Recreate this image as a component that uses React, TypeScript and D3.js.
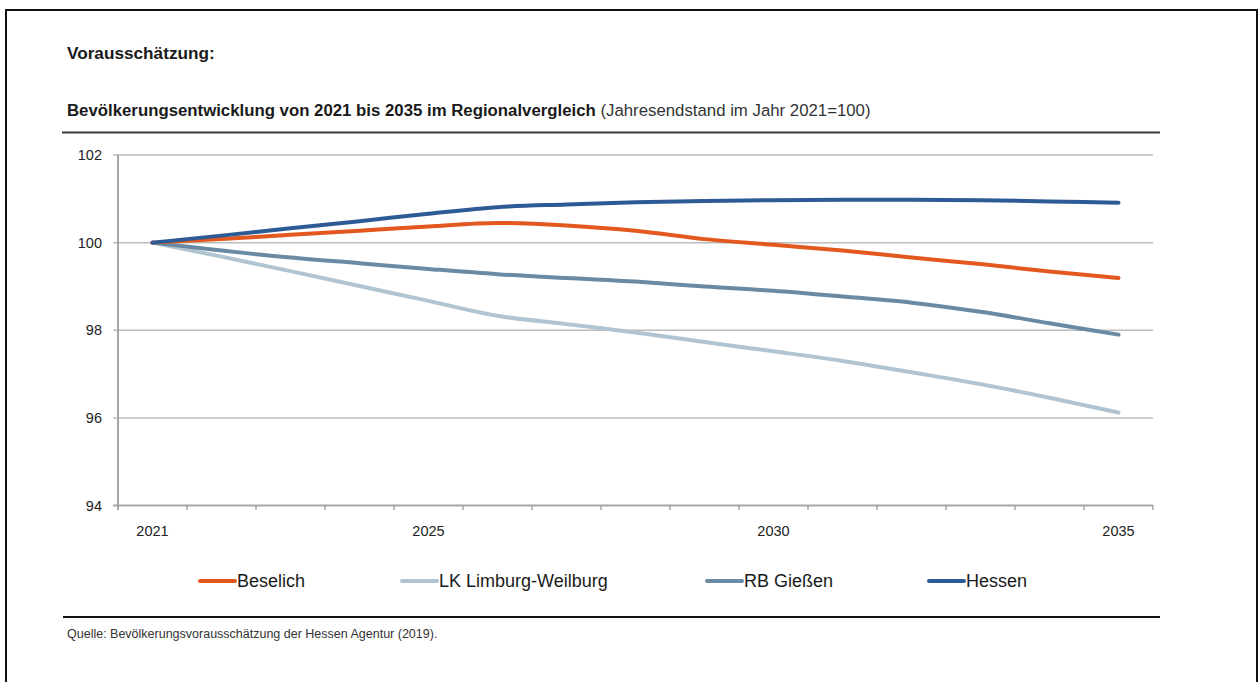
import React from "react";
import * as d3 from "d3";

// Projection years (year-end values, 2021 = 100)
const years = [2021, 2022, 2023, 2024, 2025, 2026, 2027, 2028, 2029, 2030, 2031, 2032, 2033, 2034, 2035];
const labelledYears = [2021, 2025, 2030, 2035];
const yTicks = [94, 96, 98, 100, 102];

const seriesNames = ["Beselich", "LK Limburg-Weilburg", "RB Gießen", "Hessen"];
const seriesColors = ["#E2581F", "#B1C4D2", "#6A8AA3", "#2E5B95"];

const beselich = [100, 100.08, 100.18, 100.27, 100.37, 100.45, 100.39, 100.27, 100.08, 99.95, 99.82, 99.66, 99.51, 99.34, 99.19];
const limburgWeilburg = [100, 99.68, 99.35, 99.01, 98.67, 98.33, 98.14, 97.95, 97.73, 97.52, 97.3, 97.04, 96.77, 96.46, 96.12];
const rbGiessen = [100, 99.82, 99.66, 99.53, 99.4, 99.28, 99.19, 99.11, 99.0, 98.9, 98.77, 98.63, 98.42, 98.16, 97.9];
const hessen = [100, 100.16, 100.33, 100.49, 100.66, 100.81, 100.87, 100.92, 100.95, 100.97, 100.98, 100.98, 100.97, 100.94, 100.91];

const seriesValues = [beselich, limburgWeilburg, rbGiessen, hessen];
// Draw order: Hessen last so it sits on top at the common start point
const drawOrder = [1, 2, 0, 3];

const legendX = [200, 402, 707, 929];

const FONT = "'Liberation Sans', Arial, Helvetica, sans-serif";

export default function App() {
  const x = d3
    .scaleBand<string>()
    .domain(years.map(String))
    .range([118, 1153])
    .paddingInner(0)
    .paddingOuter(0);
  const y = d3.scaleLinear().domain([94, 102]).range([505.5, 155]);
  const cx = (yr: number) => (x(String(yr)) as number) + x.bandwidth() / 2;

  const line = d3
    .line<number>()
    .x((_, i) => cx(years[i]))
    .y((v) => y(v))
    .curve(d3.curveMonotoneX);

  const boundaries = years.map((yr) => x(String(yr)) as number).concat([x.range()[1]]);

  return (
    <svg
      width={1260}
      height={682}
      style={{ position: "absolute", left: 0, top: 0, background: "#fff" }}
      fontFamily={FONT}
    >
      {/* page frame */}
      <rect x={6} y={10} width={1251} height={700} fill="none" stroke="#111" strokeWidth={2} />

      <text x={67} y={59} fontSize={17.2} fontWeight="bold" fill="#1a1a1a">
        Vorausschätzung:
      </text>
      <text x={67} y={116} fontSize={16.8} fill="#1a1a1a">
        <tspan fontWeight="bold">Bevölkerungsentwicklung von 2021 bis 2035 im Regionalvergleich</tspan>
        <tspan fill="#333"> (Jahresendstand im Jahr 2021=100)</tspan>
      </text>
      <line x1={62} x2={1160} y1={132.5} y2={132.5} stroke="#3a3a3a" strokeWidth={2} />

      {/* horizontal gridlines */}
      {yTicks.map((t) => (
        <g key={t}>
          <line
            x1={113}
            x2={1153}
            y1={y(t)}
            y2={y(t)}
            stroke={t === 94 ? "#a6a6a6" : "#bcbcbc"}
            strokeWidth={t === 94 ? 2 : 1.5}
          />
          <text x={102} y={y(t)} dy="0.36em" textAnchor="end" fontSize={14.5} fill="#222">
            {t}
          </text>
        </g>
      ))}

      {/* y axis */}
      <line x1={118} x2={118} y1={155} y2={510} stroke="#a6a6a6" strokeWidth={2} />

      {/* x axis ticks at category boundaries */}
      {boundaries.map((bx, i) => (
        <line key={i} x1={bx} x2={bx} y1={y(94)} y2={y(94) + 4.5} stroke="#a6a6a6" strokeWidth={1.5} />
      ))}
      {labelledYears.map((yr) => (
        <text key={yr} x={cx(yr)} y={536} textAnchor="middle" fontSize={14.5} fill="#222">
          {yr}
        </text>
      ))}

      {/* series lines */}
      {drawOrder.map((si) => (
        <path
          key={seriesNames[si]}
          d={line(seriesValues[si]) || ""}
          fill="none"
          stroke={seriesColors[si]}
          strokeWidth={4}
          strokeLinecap="round"
          strokeLinejoin="round"
        />
      ))}

      {/* legend */}
      {seriesNames.map((name, i) => (
        <g key={name}>
          <line
            x1={legendX[i]}
            x2={legendX[i] + 35}
            y1={581}
            y2={581}
            stroke={seriesColors[i]}
            strokeWidth={4}
            strokeLinecap="round"
          />
          <text x={legendX[i] + 37} y={587} fontSize={18} fill="#1a1a1a">
            {name}
          </text>
        </g>
      ))}

      <line x1={63} x2={1160} y1={617} y2={617} stroke="#111" strokeWidth={2} />
      <text x={67} y={638} fontSize={12.5} fill="#333">
        Quelle: Bevölkerungsvorausschätzung der Hessen Agentur (2019).
      </text>
    </svg>
  );
}
